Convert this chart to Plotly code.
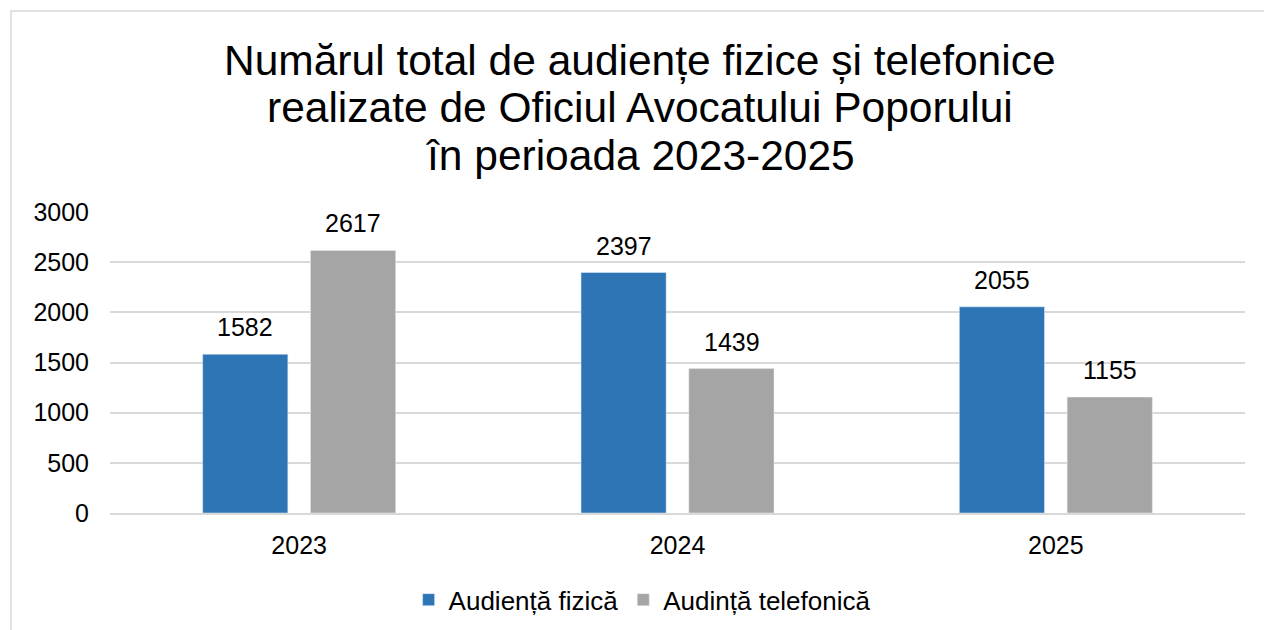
import plotly.graph_objects as go

years = ['2023', '2024', '2025']
fizica = [1582, 2397, 2055]
telefonica = [2617, 1439, 1155]
series_names = ['Audiență fizică', 'Audință telefonică']
title_lines = ['Numărul total de audiențe fizice și telefonice',
               'realizate de Oficiul Avocatului Poporului',
               'în perioada 2023-2025']

font = 'Liberation Sans, Arial, sans-serif'

fig = go.Figure()
fig.add_trace(go.Bar(x=years, y=fizica, name=series_names[0], marker_color='#2E75B6'))
fig.add_trace(go.Bar(x=years, y=telefonica, name=series_names[1], marker_color='#A5A5A5'))

# data labels, placed a bit higher above the bars than plotly's 'outside' text
annotations = []
for vals, shift in [(fizica, -54), (telefonica, 54)]:
    for i, v in enumerate(vals):
        annotations.append(dict(x=i, y=v, xref='x', yref='y', text=str(v), showarrow=False,
                                xshift=shift, yshift=11, yanchor='bottom',
                                font=dict(size=25, color='#000000')))

# title, one annotation per line for tighter line spacing (plot area spans px 212..513)
for i, line in enumerate(title_lines):
    annotations.append(dict(x=0.467, xref='paper', y=(513 - (60 + 48 * i)) / 301, yref='paper',
                            text=line, showarrow=False, xanchor='center', yanchor='middle',
                            font=dict(size=42.5, color='#000000')))

fig.update_layout(
    width=1264, height=630,
    margin=dict(l=110, r=19, t=212, b=117),
    paper_bgcolor='white', plot_bgcolor='white',
    font=dict(family=font, size=25, color='#000000'),
    barmode='group', bargap=0.43, bargroupgap=0.21,
    legend=dict(orientation='h', x=0.508, xanchor='center', xref='container',
                y=0.048, yanchor='middle', yref='container',
                font=dict(size=26), itemwidth=30, traceorder='normal'),
    xaxis=dict(type='category', range=[-0.5, 2.5], showline=True, linecolor='#D9D9D9',
               linewidth=1.5, ticks='', tickfont=dict(size=25), ticklabelstandoff=9),
    yaxis=dict(range=[0, 3000], dtick=500, showgrid=True, gridcolor='#D9D9D9', gridwidth=1.5,
               zeroline=False, showline=False, tickfont=dict(size=25), ticklabelstandoff=20),
    annotations=annotations,
    shapes=[dict(type='rect', xref='paper', yref='paper', x0=-0.0872, x1=1.03, y0=-0.45, y1=1.668,
                 line=dict(color='#D9D9D9', width=1.5), fillcolor='rgba(0,0,0,0)', layer='below')],
)

fig.write_html('out.html', config={'displayModeBar': False},
               post_script="document.body.style.margin='0';document.body.style.overflow='hidden';")
